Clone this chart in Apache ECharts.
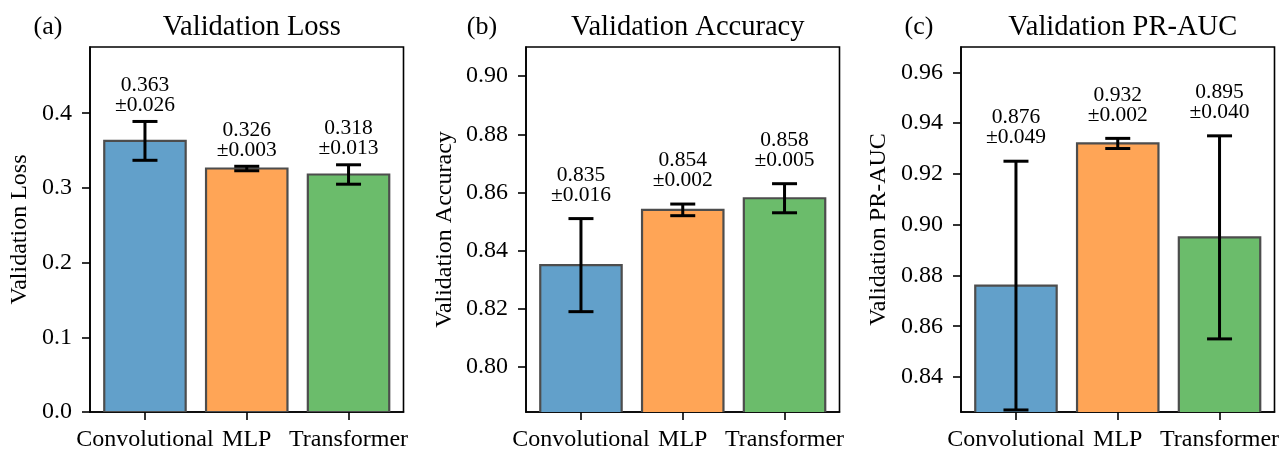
<!DOCTYPE html>
<html>
<head>
<meta charset="utf-8">
<script src="https://cdn.jsdelivr.net/npm/echarts@6/dist/echarts.min.js"></script>
<style>
  html, body { margin: 0; padding: 0; background: #fff; }
  #main { width: 1283px; height: 449px; }
</style>
</head>
<body>
<div id="main"></div>
<script>
// data
var models = ["Convolutional", "MLP", "Transformer"];
var lossMean = [0.363, 0.326, 0.318];
var lossStd = [0.026, 0.003, 0.013];
var accMean = [0.835, 0.854, 0.858];
var accStd = [0.016, 0.002, 0.005];
var prMean = [0.876, 0.932, 0.895];
var prStd = [0.049, 0.002, 0.040];
var lossTicks = [0.0, 0.1, 0.2, 0.3, 0.4];
var accTicks = [0.80, 0.82, 0.84, 0.86, 0.88, 0.90];
var prTicks = [0.84, 0.86, 0.88, 0.90, 0.92, 0.94, 0.96];

var fillColors = ["#62a0ca", "#ffa556", "#6bbc6b"];
var edgeColor = "#4d4d4d";
var FONT = "'Liberation Serif', serif";

var panels = [
  { letter: "(a)", title: "Validation Loss", yName: "Validation Loss", mean: lossMean, std: lossStd,
    ticks: lossTicks, digits: 1, min: 0, max: 0.4887, left: 90, letterX: 43, nameGap: 58, textOff: 16 },
  { letter: "(b)", title: "Validation Accuracy", yName: "Validation Accuracy", mean: accMean, std: accStd,
    ticks: accTicks, digits: 2, min: 0.7845, max: 0.910, left: 526, letterX: 477, nameGap: 69, textOff: 23.5 },
  { letter: "(c)", title: "Validation PR-AUC", yName: "Validation PR-AUC", mean: prMean, std: prStd,
    ticks: prTicks, digits: 2, min: 0.8262, max: 0.970, left: 961, letterX: 914, nameGap: 70, textOff: 23.5 }
];

var gridW = 313.5, gridTop = 47, gridH = 365;

var grid = [], xAxis = [], yAxis = [], series = [], title = [];

panels.forEach(function (p, k) {
  grid.push({
    left: p.left, top: gridTop, width: gridW, height: gridH,
    outerBoundsMode: "none", containLabel: false,
    show: true, borderColor: "#000", borderWidth: 1.6, backgroundColor: "transparent"
  });
  xAxis.push({
    type: "value", gridIndex: k, min: -0.54, max: 2.54,
    splitLine: { show: false },
    axisLine: { show: true, onZero: false, lineStyle: { color: "#000", width: 1.6 } },
    axisTick: { show: true, length: 8, customValues: [0, 1, 2], lineStyle: { color: "#000", width: 1.6 } },
    axisLabel: {
      customValues: [0, 1, 2], margin: 16, color: "#000", fontFamily: FONT, fontSize: 24,
      formatter: function (v) { return models[Math.round(v)]; }
    }
  });
  yAxis.push({
    type: "value", gridIndex: k, min: p.min, max: p.max,
    name: p.yName, nameLocation: "middle", nameGap: p.nameGap, nameRotate: 90,
    nameTextStyle: { color: "#000", fontFamily: FONT, fontSize: 24 },
    splitLine: { show: false },
    axisLine: { show: true, onZero: false, lineStyle: { color: "#000", width: 1.6 } },
    axisTick: { show: true, length: 8, customValues: p.ticks, lineStyle: { color: "#000", width: 1.6 } },
    axisLabel: {
      customValues: p.ticks, margin: 18, color: "#000", fontFamily: FONT, fontSize: 24,
      formatter: function (v) { return v.toFixed(p.digits); }
    }
  });
  title.push({
    text: p.title, left: p.left + gridW / 2, top: 8, textAlign: "center",
    textStyle: { color: "#000", fontFamily: FONT, fontSize: 28.5, fontWeight: "normal" }
  });
  title.push({
    text: p.letter, left: p.letterX, top: 9, textAlign: "center",
    textStyle: { color: "#000", fontFamily: FONT, fontSize: 26, fontWeight: "normal" }
  });

  var data = p.mean.map(function (m, i) { return [i, m, p.std[i]]; });

  // bars
  series.push({
    type: "custom", xAxisIndex: k, yAxisIndex: k, clip: true, z: 2,
    data: data,
    renderItem: function (params, api) {
      var i = api.value(0), m = api.value(1);
      var tl = api.coord([i - 0.4, m]);
      var br = api.coord([i + 0.4, 0]);
      return {
        type: "rect",
        shape: { x: tl[0], y: tl[1], width: br[0] - tl[0], height: br[1] - tl[1] },
        style: { fill: fillColors[i], stroke: edgeColor, lineWidth: 2.2 }
      };
    }
  });

  // error bars
  series.push({
    type: "custom", xAxisIndex: k, yAxisIndex: k, clip: true, z: 3,
    data: data,
    renderItem: function (params, api) {
      var i = api.value(0), m = api.value(1), s = api.value(2);
      var top = api.coord([i, m + s]);
      var bot = api.coord([i, m - s]);
      var cap = 12.5;
      var ls = { stroke: "#000", lineWidth: 3 };
      return {
        type: "group",
        children: [
          { type: "line", shape: { x1: top[0], y1: top[1], x2: bot[0], y2: bot[1] }, style: ls },
          { type: "line", shape: { x1: top[0] - cap, y1: top[1], x2: top[0] + cap, y2: top[1] }, style: ls },
          { type: "line", shape: { x1: bot[0] - cap, y1: bot[1], x2: bot[0] + cap, y2: bot[1] }, style: ls }
        ]
      };
    }
  });

  // value annotations
  series.push({
    type: "custom", xAxisIndex: k, yAxisIndex: k, clip: false, z: 4,
    data: data,
    renderItem: function (params, api) {
      var i = api.value(0), m = api.value(1), s = api.value(2);
      var top = api.coord([i, m + s]);
      var y2 = top[1] - p.textOff;
      var ts = { fill: "#000", fontFamily: FONT, fontSize: 21.5, align: "center", verticalAlign: "middle" };
      return {
        type: "group",
        children: [
          { type: "text", x: top[0], y: y2 - 20, style: Object.assign({ text: m.toFixed(3) }, ts) },
          { type: "text", x: top[0], y: y2, style: Object.assign({ text: "\u00b1" + s.toFixed(3) }, ts) }
        ]
      };
    }
  });
});

var chart = echarts.init(document.getElementById("main"));
chart.setOption({
  animation: false,
  backgroundColor: "#fff",
  title: title,
  grid: grid,
  xAxis: xAxis,
  yAxis: yAxis,
  series: series
});
</script>
</body>
</html>
